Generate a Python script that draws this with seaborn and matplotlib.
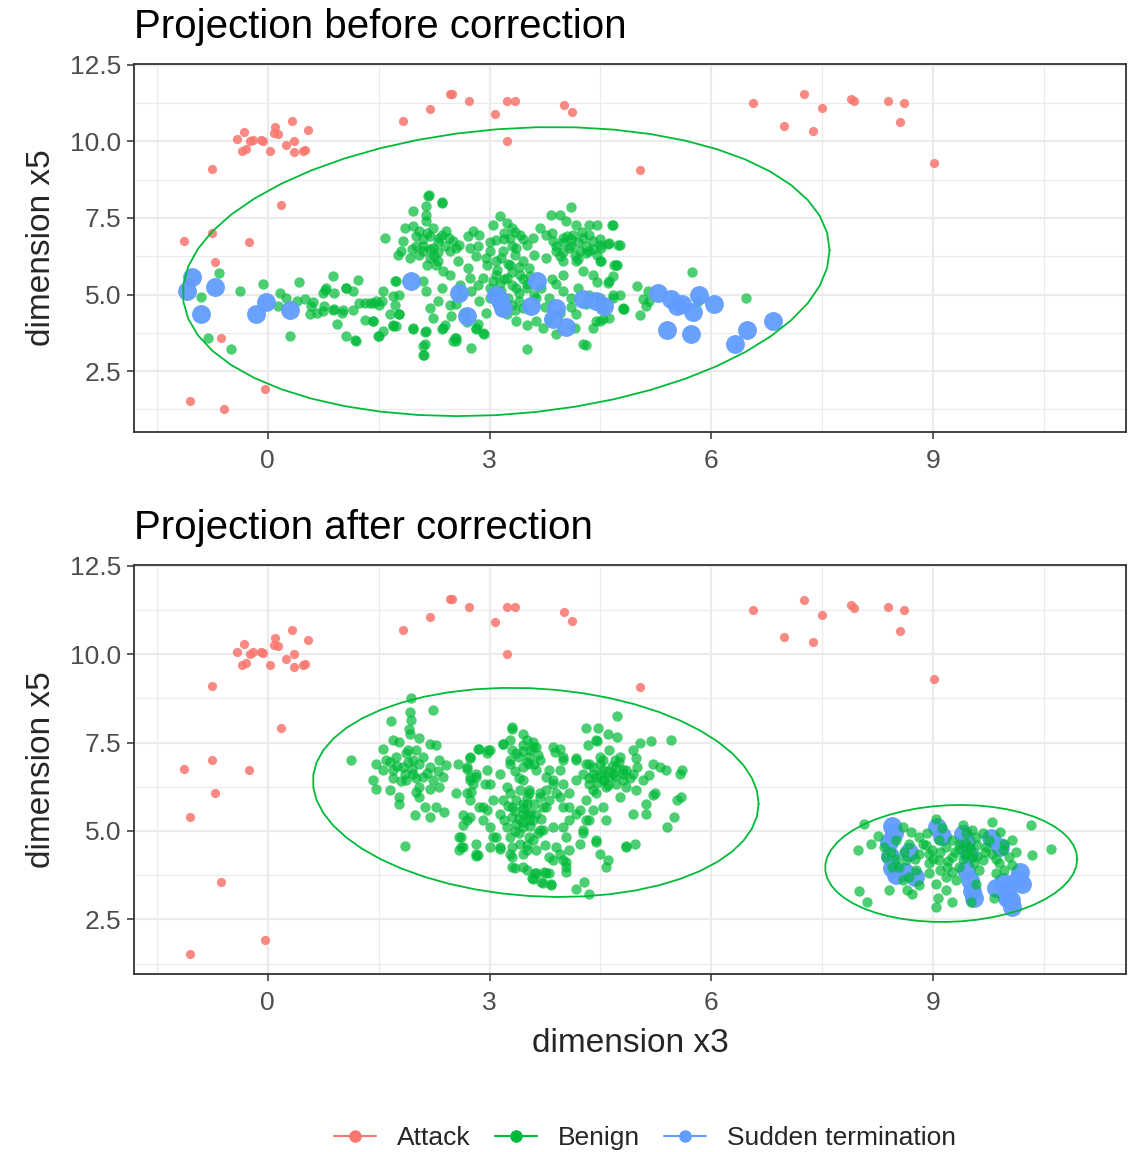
import numpy as np
import pandas as pd
import matplotlib
matplotlib.use("Agg")
import matplotlib.pyplot as plt
import seaborn as sns
from matplotlib.lines import Line2D
from matplotlib.ticker import FixedLocator

sns.set_theme(style="white")
plt.rcParams['font.family'] = ['Liberation Sans', 'DejaVu Sans']

# ---------------- data ----------------
categories = ["Attack", "Benign", "Sudden termination"]
palette = {"Attack": "#F8766D", "Benign": "#00BA38", "Sudden termination": "#619CFF"}
titles = ["Projection before correction", "Projection after correction"]
x_label = "dimension x3"
y_label = "dimension x5"
x_ticks = [0, 3, 6, 9]
x_tick_labels = ["0", "3", "6", "9"]
y_ticks = [2.5, 5.0, 7.5, 10.0, 12.5]
y_tick_labels = ["2.5", "5.0", "7.5", "10.0", "12.5"]

attack_common = [
    (-1.14, 6.74), (-0.75, 7.02), (-0.26, 6.72), (-0.72, 6.07), (-0.63, 3.57),
    (-1.05, 1.52), (-0.04, 1.91), (-0.75, 9.10), (0.18, 7.92), (-1.05, 5.40),
    (-0.41, 10.07), (-0.32, 10.30), (-0.24, 10.00), (-0.20, 10.05), (-0.35, 9.70),
    (-0.29, 9.76), (-0.09, 10.05), (-0.06, 10.02), (0.03, 9.70), (0.10, 10.46),
    (0.09, 10.26), (0.14, 10.23), (0.33, 10.67), (0.24, 9.87), (0.36, 10.00),
    (0.36, 9.64), (0.48, 9.68), (0.51, 9.73), (0.55, 10.39),
    (1.83, 10.67), (2.20, 11.05), (2.46, 11.55), (2.49, 11.55), (2.72, 11.33),
    (3.07, 10.90), (3.24, 11.33), (3.35, 11.33), (3.24, 10.00), (4.01, 11.19),
    (4.11, 10.95), (5.03, 9.07), (6.57, 11.25), (6.98, 10.49), (7.25, 11.54),
    (7.38, 10.34), (7.50, 11.10), (7.89, 11.40), (7.93, 11.31), (8.39, 11.32),
    (8.61, 11.25), (8.55, 10.64), (9.01, 9.29),
]
attack_before_only = [(-0.59, 1.27)]

benign_before_tail = [
    (-0.66, 5.70), (-0.90, 4.91), (-0.38, 5.11), (-0.07, 5.36), (0.16, 5.05),
    (0.24, 4.89), (0.42, 5.41), (0.14, 4.62), (0.39, 4.78), (0.51, 4.84),
    (0.61, 4.75), (0.57, 4.35), (0.66, 4.40), (0.76, 4.62), (0.75, 4.46),
    (0.78, 5.16), (0.88, 5.60), (0.90, 5.05), (0.90, 4.54), (1.00, 4.40),
    (0.93, 4.04), (1.06, 5.20), (1.15, 5.11), (1.22, 5.49), (1.15, 4.48),
    (1.24, 4.73), (1.31, 4.18), (1.42, 4.13), (1.38, 4.73), (1.47, 4.78),
    (1.51, 4.67), (1.56, 5.11), (1.58, 6.85), (1.06, 3.64), (1.18, 3.50),
    (1.51, 3.64), (1.56, 3.80), (1.69, 3.97), (1.65, 4.35), (1.69, 4.94),
    (1.74, 5.43), (1.76, 6.30), (0.30, 3.64), (-0.81, 3.59), (-0.50, 3.21),
    (1.31, 4.73), (1.42, 4.73), (1.54, 4.78), (1.78, 4.35), (1.74, 3.97),
    (1.49, 3.65), (1.43, 4.14), (1.20, 3.48), (0.88, 4.51), (1.02, 4.51),
    (0.79, 5.22), (1.06, 5.22), (0.75, 5.05), (0.59, 4.62),
]
benign_before_left = [
    (1.96, 3.86), (2.12, 3.78), (2.10, 3.31), (2.11, 3.04), (2.36, 3.86),
    (2.53, 3.59), (2.55, 3.48), (2.75, 3.26), (2.82, 3.86), (2.91, 3.75),
    (2.35, 7.99), (2.17, 8.23), (1.96, 7.72),
    (2.18, 8.24), (2.36, 8.01), (2.14, 7.88), (2.14, 7.61), (2.14, 7.39),
    (1.85, 7.17), (1.96, 7.23), (1.83, 6.74), (1.80, 6.41), (1.92, 6.19),
    (2.05, 7.06), (2.23, 7.17), (2.32, 6.85), (2.41, 7.06), (2.50, 6.74),
    (2.55, 6.52), (2.46, 6.41), (2.23, 6.52), (2.10, 6.41), (2.19, 6.19),
    (2.28, 5.98), (2.37, 5.76), (2.46, 5.65), (2.57, 6.09), (2.59, 6.63),
    (2.71, 6.90), (2.77, 7.06), (2.86, 6.96), (2.73, 6.52), (2.84, 6.57),
    (1.72, 5.43), (1.78, 5.00), (1.72, 4.67), (1.78, 4.35), (1.69, 4.02),
    (1.96, 3.91), (2.10, 5.43), (2.14, 5.11), (2.19, 4.56), (2.23, 4.24),
    (2.14, 3.80), (2.12, 3.37), (2.10, 3.04), (2.36, 5.20), (2.37, 3.91),
    (2.46, 4.67), (2.48, 4.29), (2.55, 3.59), (2.50, 3.48), (2.82, 3.91),
    (2.93, 3.70), (2.75, 5.11), (2.73, 5.54), (2.71, 5.87), (2.82, 6.25),
    (2.00, 6.90), (2.10, 6.80), (2.20, 6.90), (2.30, 6.70), (2.10, 6.60),
    (2.20, 6.50), (2.00, 6.60), (2.30, 6.40), (2.40, 6.60), (2.15, 7.00),
    (2.25, 6.25), (2.05, 6.30), (2.35, 6.95), (1.95, 6.50), (2.45, 6.85),
    (2.15, 5.95), (2.30, 6.10),
    (2.60, 5.00), (2.55, 4.70), (2.65, 4.40), (2.40, 4.00), (2.70, 4.10),
    (2.60, 5.30), (2.85, 5.30), (2.30, 4.80), (2.95, 4.40), (2.85, 4.05),
]
benign_before_mid = [
    (3.14, 7.55), (3.04, 7.28), (3.23, 7.33), (3.31, 7.17), (3.09, 6.79),
    (3.27, 6.85), (3.41, 6.96), (3.00, 6.41), (3.18, 6.41), (3.36, 6.52),
    (3.50, 6.63), (2.96, 5.98), (3.09, 6.09), (3.27, 5.98), (3.45, 6.09),
    (2.91, 5.54), (3.09, 5.65), (3.23, 5.54), (3.41, 5.65), (3.54, 5.87),
    (3.00, 5.22), (3.14, 5.33), (3.36, 5.22), (3.50, 5.33), (2.86, 4.78),
    (3.31, 4.67), (3.45, 4.56), (3.23, 4.35), (3.36, 4.13), (3.50, 4.02),
    (3.63, 4.13), (3.72, 3.91), (3.14, 4.45), (3.50, 3.21), (3.63, 4.89),
    (3.20, 6.80), (3.30, 6.60), (3.15, 6.20), (3.35, 6.30), (3.25, 6.00),
    (3.40, 5.90), (3.10, 5.80), (3.30, 5.75), (3.20, 5.50), (3.45, 5.50),
    (3.30, 5.30), (3.15, 5.10), (3.40, 5.05), (3.25, 4.90), (3.05, 5.00),
    (3.50, 5.20), (3.55, 5.60), (3.60, 6.30), (3.00, 6.70), (3.45, 6.80),
    (3.35, 7.05), (3.20, 7.00), (3.05, 5.45), (3.10, 4.70), (3.40, 4.80),
    (2.95, 6.20), (3.60, 5.00), (3.35, 4.50), (3.00, 4.90),
]
benign_before_right = [
    (4.30, 3.35), (4.82, 4.54), (4.76, 5.00), (4.73, 5.98), (4.74, 6.61),
    (4.10, 7.86), (4.67, 7.28), (4.62, 4.24), (4.49, 4.13),
    (3.68, 7.17), (3.59, 6.85), (3.76, 6.96), (3.83, 7.61), (3.95, 7.61),
    (4.04, 7.39), (4.17, 7.28), (4.35, 7.28), (4.46, 7.28), (3.86, 6.74),
    (3.99, 6.85), (4.13, 6.96), (4.26, 6.85), (4.40, 6.74), (3.90, 6.41),
    (4.08, 6.52), (4.22, 6.41), (4.35, 6.41), (4.49, 6.63), (4.62, 6.68),
    (4.76, 6.63), (3.76, 6.19), (3.99, 6.09), (4.17, 6.09), (4.49, 6.09),
    (4.71, 5.98), (4.26, 5.76), (4.40, 5.65), (4.62, 5.43), (4.80, 4.56),
    (3.99, 5.65), (3.90, 5.33), (3.81, 4.89), (4.17, 4.35), (4.26, 3.37),
    (4.44, 4.13), (4.53, 4.56), (4.67, 5.00), (4.10, 4.89),
    (4.66, 7.26), (4.60, 6.66), (4.51, 6.52), (4.51, 6.09), (4.69, 5.98),
    (4.67, 5.60), (4.60, 5.38), (4.67, 4.89), (4.81, 4.53), (4.53, 4.19),
    (5.00, 5.29), (5.03, 4.32), (5.07, 4.84), (5.14, 5.11), (5.16, 4.78),
    (5.12, 4.62), (5.74, 5.73), (5.82, 4.78), (6.47, 4.89),
    (4.00, 6.70), (4.10, 6.60), (4.20, 6.70), (4.30, 6.60), (4.00, 6.40),
    (4.15, 6.30), (4.30, 6.35), (4.05, 6.90), (4.25, 7.05), (4.40, 6.50),
    (3.90, 6.60), (3.95, 6.25), (4.20, 6.15), (4.50, 6.80), (4.35, 6.95),
    (4.10, 6.80), (3.85, 7.00), (4.45, 6.30),
    (3.70, 5.20), (3.85, 5.50), (4.00, 5.10), (4.20, 5.20), (4.35, 5.00),
    (4.10, 4.60), (3.95, 4.40), (4.30, 4.70), (4.45, 5.40), (3.75, 4.60),
    (4.50, 4.90), (3.80, 4.20), (4.15, 3.90), (3.90, 3.70), (4.40, 3.90),
]

sudden_before = [
    (-1.03, 5.56), (-1.09, 5.11), (-0.72, 5.24), (-0.90, 4.38), (-0.16, 4.38),
    (-0.02, 4.76), (0.30, 4.48), (1.94, 5.44), (2.58, 5.04), (2.69, 4.30),
    (3.14, 4.81), (3.09, 5.00), (3.18, 4.57), (3.56, 4.61), (3.64, 5.44),
    (3.90, 4.57), (3.86, 4.20), (4.04, 3.95), (4.26, 4.84), (4.44, 4.79),
    (4.55, 4.62), (5.28, 5.05), (5.45, 4.86), (5.54, 4.64), (5.61, 4.70),
    (5.75, 4.42), (5.84, 4.99), (6.03, 4.70), (5.40, 3.85), (5.73, 3.72),
    (6.32, 3.40), (6.48, 3.85), (6.83, 4.14),
]

benign_after_left = [
    (1.94, 8.77), (2.23, 8.41), (1.92, 8.36), (1.67, 8.10), (1.94, 8.13),
    (1.91, 7.89), (1.92, 7.75), (1.13, 7.02), (2.04, 7.64), (1.69, 7.56),
    (1.56, 7.33), (1.78, 7.51), (2.19, 7.47), (2.28, 7.42), (1.47, 6.90),
    (1.60, 7.00), (1.74, 7.09), (1.87, 7.19), (2.01, 7.28), (1.96, 7.00),
    (1.83, 6.81), (1.69, 6.71), (1.56, 6.71), (1.42, 6.43), (1.47, 6.20),
    (1.65, 6.15), (1.78, 5.96), (1.78, 5.77), (1.87, 6.43), (1.96, 6.62),
    (2.10, 6.53), (2.05, 6.24), (2.05, 5.96), (2.19, 6.81), (2.32, 7.00),
    (2.41, 6.86), (2.37, 6.53), (2.23, 6.43), (2.32, 6.24), (1.99, 5.44),
    (2.12, 5.68), (2.19, 5.40), (2.27, 5.68), (2.39, 5.54), (1.86, 4.58),
    (2.54, 6.06), (2.57, 6.90), (2.69, 6.76), (2.73, 7.07), (2.84, 7.33),
    (2.98, 7.28), (2.73, 6.53), (2.77, 6.34), (2.75, 6.10), (2.73, 5.87),
    (2.64, 5.44), (2.69, 5.30), (2.62, 4.83), (2.64, 4.55), (2.82, 4.64),
    (2.84, 4.31), (2.96, 6.71), (2.94, 6.34), (3.18, 7.47), (3.31, 7.89),
    (2.91, 5.68), (3.00, 5.11), (3.04, 4.83), (3.14, 4.55), (3.31, 4.27),
    (3.34, 3.94),
    (1.85, 6.60), (1.95, 6.75), (2.05, 6.90), (1.90, 6.95), (2.00, 6.50),
    (1.75, 6.85), (2.15, 6.65), (1.80, 6.40), (2.10, 7.10), (1.65, 6.95),
    (1.90, 7.30), (2.20, 6.20), (1.70, 6.50), (2.00, 6.10), (2.30, 6.70),
]
benign_after_mid = [
    (3.31, 7.94), (3.27, 7.56), (3.45, 7.42), (3.59, 7.37), (3.18, 7.47),
    (3.36, 7.19), (3.54, 7.09), (3.68, 7.00), (3.27, 6.90), (3.45, 6.81),
    (3.63, 6.71), (3.00, 7.28), (2.86, 7.33), (2.73, 7.09), (2.69, 6.81),
    (2.82, 6.53), (3.00, 6.34), (3.14, 6.62), (3.23, 6.24), (3.04, 5.87),
    (2.96, 5.58), (3.14, 5.49), (3.31, 5.68), (3.45, 5.49), (3.54, 5.30),
    (3.36, 5.21), (3.23, 5.11), (3.45, 5.11), (3.63, 5.49), (3.77, 5.68),
    (3.81, 5.87), (2.86, 5.68), (2.91, 5.30), (3.09, 4.83), (3.27, 4.83),
    (3.41, 4.64), (3.54, 4.83), (3.72, 5.02), (3.86, 5.11), (3.27, 4.36),
    (3.45, 4.36), (3.63, 4.45), (3.90, 4.55), (3.99, 4.17), (4.04, 3.98),
    (3.81, 4.27), (3.31, 3.98), (3.50, 3.89), (3.63, 3.80), (3.77, 3.80),
    (3.58, 3.66), (3.72, 3.53), (3.83, 3.47), (2.82, 4.36), (3.00, 4.55),
    (2.62, 4.55), (2.82, 4.30), (3.14, 4.50), (2.59, 4.45), (2.59, 4.83),
    (2.64, 5.16), (2.73, 5.40), (2.69, 6.06), (2.73, 6.43), (2.82, 6.62),
    (2.96, 7.19), (3.27, 7.00), (3.86, 7.37), (3.99, 7.09), (3.95, 6.71),
    (3.86, 6.43), (3.99, 6.34), (3.77, 6.15), (3.90, 6.06), (3.68, 5.96),
    (3.54, 6.06), (3.41, 6.15), (3.36, 5.87), (3.50, 5.77), (3.18, 5.87),
    (3.27, 6.06),
    (3.35, 5.55), (3.45, 5.65), (3.55, 5.50), (3.40, 5.35), (3.30, 5.40),
    (3.50, 5.95), (3.60, 5.75), (3.25, 5.70), (3.45, 5.25), (3.55, 5.15),
    (3.70, 5.35), (3.35, 5.00), (3.65, 4.95), (3.20, 5.30), (3.50, 4.60),
    (3.40, 4.95), (3.75, 4.60), (3.30, 4.55),
    (3.40, 7.10), (3.50, 6.95), (3.45, 7.25), (3.55, 7.30), (3.35, 6.70),
    (3.60, 6.90), (3.40, 6.50), (3.30, 7.30),
    (3.50, 4.45), (3.59, 4.74), (3.68, 5.02), (3.59, 5.30), (3.50, 5.49),
    (3.45, 5.77), (3.72, 5.68), (3.68, 6.06), (3.54, 6.15), (3.45, 6.43),
    (3.54, 6.90), (3.63, 7.37), (3.50, 7.56), (3.59, 7.51), (3.45, 7.75),
    (3.65, 7.14), (3.45, 3.98), (3.61, 3.80), (3.59, 3.65), (3.70, 3.56),
    (3.83, 3.51), (3.74, 3.84), (3.81, 3.80), (3.86, 4.17),
]
benign_after_right = [
    (4.72, 8.24), (4.30, 7.91), (4.47, 7.91), (4.60, 7.73), (4.72, 7.66),
    (4.33, 7.42), (4.45, 7.53), (5.19, 7.53), (5.46, 7.58), (5.03, 7.49),
    (4.94, 7.28), (3.95, 7.33), (3.88, 7.23), (3.99, 7.00), (4.17, 7.05),
    (4.31, 6.90), (4.49, 7.09), (4.62, 7.28), (4.76, 7.09), (4.98, 7.05),
    (5.21, 6.90), (5.30, 6.81), (5.39, 6.73), (5.61, 6.71), (5.58, 6.62),
    (5.16, 6.57), (5.07, 6.43), (4.94, 6.62), (4.80, 6.71), (4.67, 6.62),
    (4.53, 6.71), (4.40, 6.62), (4.26, 6.62), (4.17, 6.43), (4.35, 6.34),
    (4.53, 6.43), (4.71, 6.34), (4.85, 6.24), (4.98, 6.15), (5.21, 6.01),
    (5.24, 6.06), (5.59, 5.96), (5.53, 5.87), (5.12, 5.77), (4.94, 5.49),
    (5.11, 5.49), (5.49, 5.40), (5.40, 5.11), (4.76, 5.96), (4.58, 6.24),
    (4.44, 6.06), (4.31, 5.87), (4.22, 5.58), (4.08, 5.68), (3.95, 5.96),
    (3.86, 6.34), (3.81, 6.71), (3.77, 6.53), (4.53, 5.68), (4.40, 5.58),
    (4.58, 5.30), (4.31, 5.30), (4.26, 5.02), (4.44, 4.69), (4.49, 4.36),
    (4.60, 4.17), (4.58, 3.98), (4.84, 4.58), (4.97, 4.64), (4.08, 5.30),
    (3.99, 5.11), (4.04, 4.83), (4.22, 4.64), (4.08, 4.45), (3.95, 4.36),
    (4.04, 4.12), (4.04, 3.84), (4.28, 3.56), (4.17, 3.37), (4.35, 3.23),
    (4.44, 7.56), (4.17, 7.00), (4.35, 6.90), (4.53, 7.00), (4.71, 6.81),
    (4.85, 6.71), (4.44, 6.53), (4.62, 6.53), (4.80, 6.43), (4.40, 6.15),
    (4.08, 6.06), (3.99, 5.68), (4.17, 5.49), (4.35, 5.30), (4.26, 4.93),
    (4.44, 4.74), (4.85, 4.55),
    (4.50, 6.60), (4.60, 6.70), (4.70, 6.55), (4.55, 6.45), (4.65, 6.85),
    (4.40, 6.80), (4.80, 6.60), (4.50, 6.90), (4.75, 6.95), (4.35, 6.50),
    (4.90, 6.50), (4.60, 6.30), (4.45, 6.35), (5.00, 6.80), (4.70, 7.00),
]
benign_after_far = [
    (8.07, 5.21), (7.99, 4.45), (8.16, 4.64), (8.26, 4.86), (8.00, 3.31),
    (8.11, 3.00), (8.40, 3.34), (8.34, 4.55), (8.36, 4.27), (8.50, 4.74),
    (8.59, 5.11), (8.70, 4.97), (8.54, 3.98), (8.63, 4.17), (8.68, 3.70),
    (8.77, 3.89), (8.81, 4.36), (8.86, 4.64), (8.92, 4.93), (8.65, 3.33),
    (8.72, 3.23), (8.81, 3.47), (8.95, 4.08), (8.99, 4.45), (9.04, 5.35),
    (9.12, 5.07), (9.08, 4.74), (9.17, 4.55), (9.08, 4.17), (8.95, 3.80),
    (9.04, 3.51), (9.19, 3.98), (9.06, 3.09), (9.04, 2.85), (9.17, 3.33),
    (9.26, 3.00), (9.31, 3.61), (9.26, 4.27), (9.35, 4.64), (9.40, 5.16),
    (9.44, 4.93), (9.49, 4.55), (9.53, 4.27), (9.58, 4.83), (9.67, 4.93),
    (9.71, 4.55), (9.67, 4.17), (9.62, 3.89), (9.51, 3.00), (9.80, 5.25),
    (9.91, 4.97), (9.80, 4.36), (9.89, 4.08), (9.85, 3.80), (9.82, 3.09),
    (9.96, 4.64), (10.03, 4.27), (10.07, 4.74), (10.12, 4.41), (10.07, 4.03),
    (10.32, 5.16), (10.34, 4.33), (10.59, 4.50), (9.44, 4.36), (9.35, 3.98),
    (9.17, 3.70), (8.81, 4.83), (8.68, 4.64), (8.59, 3.61), (8.45, 3.98),
    (8.43, 4.41), (9.53, 5.02), (9.76, 4.74), (9.96, 3.89), (9.26, 4.74),
    (8.95, 4.36), (9.58, 3.51),
    (9.00, 4.20), (9.10, 4.40), (9.20, 4.15), (9.30, 4.40), (9.40, 4.20),
    (9.50, 4.45), (9.60, 4.30), (9.70, 4.40), (9.55, 4.10), (9.35, 4.50),
    (9.45, 4.65), (9.60, 4.60), (9.25, 3.85), (8.90, 4.60), (8.75, 4.20),
    (8.60, 4.40), (8.50, 4.20), (9.85, 4.20), (9.95, 4.45), (9.10, 3.90),
]
sudden_after = [
    (8.45, 5.15), (8.47, 4.95), (8.40, 4.70), (8.42, 4.30), (8.45, 3.95),
    (8.50, 3.75), (8.62, 3.85), (8.75, 3.70), (8.68, 4.40), (9.05, 5.10),
    (9.12, 4.85), (9.40, 4.90), (9.45, 4.70), (9.48, 4.35), (9.45, 3.90),
    (9.50, 3.60), (9.52, 3.30), (9.55, 3.10), (9.78, 4.80), (9.90, 4.55),
    (9.95, 3.55), (10.00, 3.30), (10.05, 3.05), (10.07, 2.85), (10.15, 3.65),
    (10.18, 3.85), (10.20, 3.50), (10.00, 3.10), (9.85, 3.40),
]

# stat_ellipse results: centre and Cholesky-scaled shape
ellipses_before = [dict(center=(3.225, 5.75), shape=((4.375, 0.70), (0.0, 4.67)))]
ellipses_after = [
    dict(center=(3.625, 6.09), shape=((3.015, -0.32), (0.0, 2.94))),
    dict(center=(9.245, 4.08), shape=((1.705, 0.12), (0.0, 1.65))),
]

# ---------------- helpers ----------------
def to_frame(pairs, label):
    arr = np.array(pairs, dtype=float)
    return pd.DataFrame({"x": arr[:, 0], "y": arr[:, 1], "class": label})


def ellipse_path(center, shape, segments=51):
    t = np.linspace(0, 2 * np.pi, segments + 1)
    circle = np.column_stack([np.cos(t), np.sin(t)])
    pts = circle @ np.array(shape) + np.array(center)
    return pts[:, 0], pts[:, 1]


def style_axes(ax, ylim):
    ax.set_xlim(-1.81, 11.61)
    ax.set_ylim(*ylim)
    ax.set_facecolor("white")
    ax.xaxis.set_major_locator(FixedLocator(x_ticks))
    ax.yaxis.set_major_locator(FixedLocator(y_ticks))
    ax.set_xticklabels(x_tick_labels)
    ax.set_yticklabels(y_tick_labels)
    ax.xaxis.set_minor_locator(FixedLocator([-1.5, 1.5, 4.5, 7.5, 10.5]))
    ax.yaxis.set_minor_locator(FixedLocator([1.25, 3.75, 6.25, 8.75, 11.25]))
    ax.grid(True, which="major", color="#EBEBEB", linewidth=1.6, zorder=0)
    ax.grid(True, which="minor", color="#EBEBEB", linewidth=0.9, zorder=0)
    ax.set_axisbelow(True)
    ax.tick_params(which="major", length=5, width=1.1, color="#333333",
                   labelsize=19, labelcolor="#4D4D4D", pad=4,
                   bottom=True, left=True)
    ax.tick_params(axis="x", which="major", pad=7)
    ax.tick_params(which="minor", length=0)
    for s in ax.spines.values():
        s.set_color("#333333")
        s.set_linewidth(1.3)
    ax.set_xlabel("")
    ax.set_ylabel("")


def draw_panel(ax, attack, benign, sudden, ellipses, sudden_on_top):
    z_sudden = 4 if sudden_on_top else 2
    sns.scatterplot(data=benign, x="x", y="y", color=palette["Benign"], s=56,
                    alpha=0.7, linewidth=0, ax=ax, legend=False, zorder=3)
    sns.scatterplot(data=sudden, x="x", y="y", color=palette["Sudden termination"],
                    s=185, alpha=0.95, linewidth=0, ax=ax, legend=False, zorder=z_sudden)
    sns.scatterplot(data=attack, x="x", y="y", color=palette["Attack"], s=44,
                    alpha=0.85, linewidth=0, ax=ax, legend=False, zorder=3)
    for e in ellipses:
        ex, ey = ellipse_path(e["center"], e["shape"])
        sns.lineplot(x=ex, y=ey, sort=False, estimator=None, color=palette["Benign"],
                     linewidth=1.3, ax=ax, zorder=5)


# ---------------- figure ----------------
W, H = 1132, 1152
fig = plt.figure(figsize=(W / 100, H / 100), dpi=100)
fig.patch.set_facecolor("white")

ax_top = fig.add_axes([134 / W, 1 - 432 / H, (1126 - 134) / W, (432 - 64) / H])
ax_bot = fig.add_axes([134 / W, 1 - 974 / H, (1126 - 134) / W, (974 - 565) / H])

draw_panel(ax_top,
           to_frame(attack_common + attack_before_only, "Attack"),
           to_frame(benign_before_tail + benign_before_left + benign_before_mid
                    + benign_before_right, "Benign"),
           to_frame(sudden_before, "Sudden termination"),
           ellipses_before, sudden_on_top=True)
style_axes(ax_top, (0.51, 12.53))

draw_panel(ax_bot,
           to_frame(attack_common, "Attack"),
           to_frame(benign_after_left + benign_after_mid + benign_after_right
                    + benign_after_far, "Benign"),
           to_frame(sudden_after, "Sudden termination"),
           ellipses_after, sudden_on_top=False)
style_axes(ax_bot, (0.955, 12.52))

# titles and axis titles
fig.text(134 / W, 1 - 27 / H, titles[0], ha="left", va="center", fontsize=29, color="black")
fig.text(134 / W, 1 - 528 / H, titles[1], ha="left", va="center", fontsize=29, color="black")
fig.text(42 / W, 1 - 248 / H, y_label, ha="center", va="center", rotation=90, fontsize=24)
fig.text(42 / W, 1 - 770 / H, y_label, ha="center", va="center", rotation=90, fontsize=24)
fig.text(630 / W, 1 - 1043 / H, x_label, ha="center", va="center", fontsize=24)

handles = [Line2D([0], [0], color=palette[c], marker="o", markersize=9,
                  linewidth=1.5, markeredgewidth=0) for c in categories]
fig.legend(handles, categories, loc="center", bbox_to_anchor=(645 / W, 1 - 1138 / H),
           ncol=3, frameon=False, fontsize=19, handlelength=1.6,
           handletextpad=0.8, columnspacing=0.9)

fig.savefig("out.png", dpi=100, facecolor="white")
